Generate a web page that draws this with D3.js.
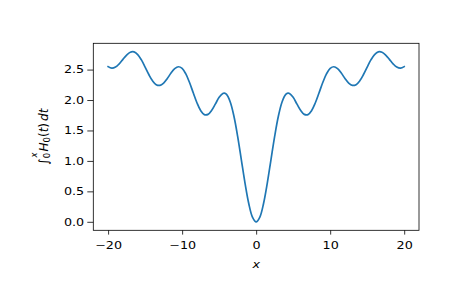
<!DOCTYPE html>
<html><head><meta charset="utf-8">
<script src="https://cdn.jsdelivr.net/npm/d3@7"></script>
<style>html,body{margin:0;padding:0;background:#fff;} svg{display:block;}</style>
</head><body>
<svg id="chart" width="465" height="288"></svg>
<script>
// x positions of the sampled curve
const xValues = [-20,-19.5,-19,-18.5,-18,-17.5,-17,-16.5,-16,-15.5,-15,-14.5,-14,-13.5,-13,-12.5,-12,-11.5,-11,-10.5,-10,-9.5,-9,-8.5,-8,-7.5,-7,-6.5,-6,-5.5,-5,-4.5,-4.3,-4,-3.5,-3,-2.5,-2,-1.5,-1,-0.5,0,
  0.5,1,1.5,2,2.5,3,3.5,4,4.3,4.5,5,5.5,6,6.5,7,7.5,8,8.5,9,9.5,10,10.5,11,11.5,12,12.5,13,13.5,14,14.5,15,15.5,16,16.5,17,17.5,18,18.5,19,19.5,20];
// integral of H0 from 0 to x
const yValues = [2.5485,2.5228,2.5407,2.5947,2.6682,2.7392,2.7855,2.7903,2.7464,2.6584,2.5416,2.4190,2.3157,2.2523,2.2405,2.2792,2.3545,2.4426,2.5151,2.5463,2.5188,2.4288,2.2875,2.1190,1.9550,1.8274,1.7605,1.7643,1.8311,1.9356,2.0443,2.1085,2.1133,2.0916,1.9680,1.7328,1.4034,1.0187,0.6319,0.3011,0.0785,0,
  0.0785,0.3011,0.6319,1.0187,1.4034,1.7328,1.9680,2.0916,2.1133,2.1085,2.0443,1.9356,1.8311,1.7643,1.7605,1.8274,1.9550,2.1190,2.2875,2.4288,2.5188,2.5463,2.5151,2.4426,2.3545,2.2792,2.2405,2.2523,2.3157,2.4190,2.5416,2.6584,2.7464,2.7903,2.7855,2.7392,2.6682,2.5947,2.5407,2.5228,2.5485];
const xTickValues = [-20,-10,0,10,20];
const yTickValues = [0,0.5,1,1.5,2,2.5];
const xLabelText = "x";

const L = 93.3, R = 419, T = 43.3, B = 230.3;
const SX = 1.27; // horizontal stretch of glyphs in the reference
const FONT = "DejaVu Sans, sans-serif";
const svg = d3.select("#chart");

const xPad = (d3.max(xValues) - d3.min(xValues)) * 0.05;
const x = d3.scaleLinear().domain([d3.min(xValues) - xPad, d3.max(xValues) + xPad]).range([L, R]);
const yLo = d3.min(yValues), yHi = 2.792;
const yPad = (yHi - yLo) * 0.05;
const y = d3.scaleLinear().domain([yLo - yPad, yHi + yPad]).range([B, T]);

const fmtX = d => d < 0 ? "\u2212" + Math.abs(d) : String(d);

const gx = svg.append("g").attr("transform", `translate(0,${B})`)
  .call(d3.axisBottom(x).tickValues(xTickValues).tickSize(4.3).tickPadding(3).tickFormat(fmtX));
const gy = svg.append("g").attr("transform", `translate(${L},0)`)
  .call(d3.axisLeft(y).tickValues(yTickValues).tickSize(6).tickPadding(3).tickFormat(d3.format(".1f")));

[gx, gy].forEach(g => {
  g.select(".domain").remove();
  g.selectAll(".tick line").attr("stroke", "#000").attr("stroke-width", 0.8);
  g.selectAll("text").attr("fill", "#000").style("font-family", FONT).style("font-size", "10px");
});
gx.selectAll(".tick text").attr("y", null).attr("dy", null)
  .attr("transform", `translate(0,18.5) scale(${SX},1)`);
gy.selectAll(".tick text").attr("x", null)
  .attr("transform", `translate(-9.1,0) scale(${SX},1)`);

// curve
svg.append("path")
  .datum(xValues.map((v, i) => [v, yValues[i]]))
  .attr("fill", "none").attr("stroke", "#1f77b4").attr("stroke-width", 1.7)
  .attr("stroke-linejoin", "round").attr("stroke-linecap", "square")
  .attr("d", d3.line().x(d => x(d[0])).y(d => y(d[1])).curve(d3.curveCatmullRom.alpha(0.5)));

// frame
svg.append("rect").attr("x", L).attr("y", T).attr("width", R - L).attr("height", B - T)
  .attr("fill", "none").attr("stroke", "#000").attr("stroke-width", 0.8);

// x label
svg.append("text").attr("transform", `translate(${(L + R) / 2},268) scale(${SX},1)`)
  .attr("text-anchor", "middle").style("font-family", FONT).style("font-size", "10px")
  .style("font-style", "italic").text(xLabelText);

// y label: ∫_0^x H_0(t) dt
const yl = svg.append("text")
  .attr("transform", `translate(47.7,${(T + B) / 2}) rotate(-90) scale(1,1.06)`)
  .attr("text-anchor", "middle").style("font-family", FONT).style("font-size", "12px").attr("fill", "#000");
yl.append("tspan").text("\u222B");
yl.append("tspan").text("0").style("font-size", "8.4px").attr("dy", 2.2).attr("dx", 0.4);
yl.append("tspan").text("x").style("font-size", "8.4px").style("font-style", "italic").attr("dy", -12.6).attr("dx", -4.6);
yl.append("tspan").text("H").style("font-style", "italic").attr("dy", 10.4).attr("dx", 1.2);
yl.append("tspan").text("0").style("font-size", "8.4px").attr("dy", 2.2);
yl.append("tspan").text("(").attr("dy", -2.2);
yl.append("tspan").text("t").style("font-style", "italic");
yl.append("tspan").text(")");
yl.append("tspan").text("d").style("font-style", "italic").attr("dx", 2);
yl.append("tspan").text("t").style("font-style", "italic");
</script>
</body></html>
